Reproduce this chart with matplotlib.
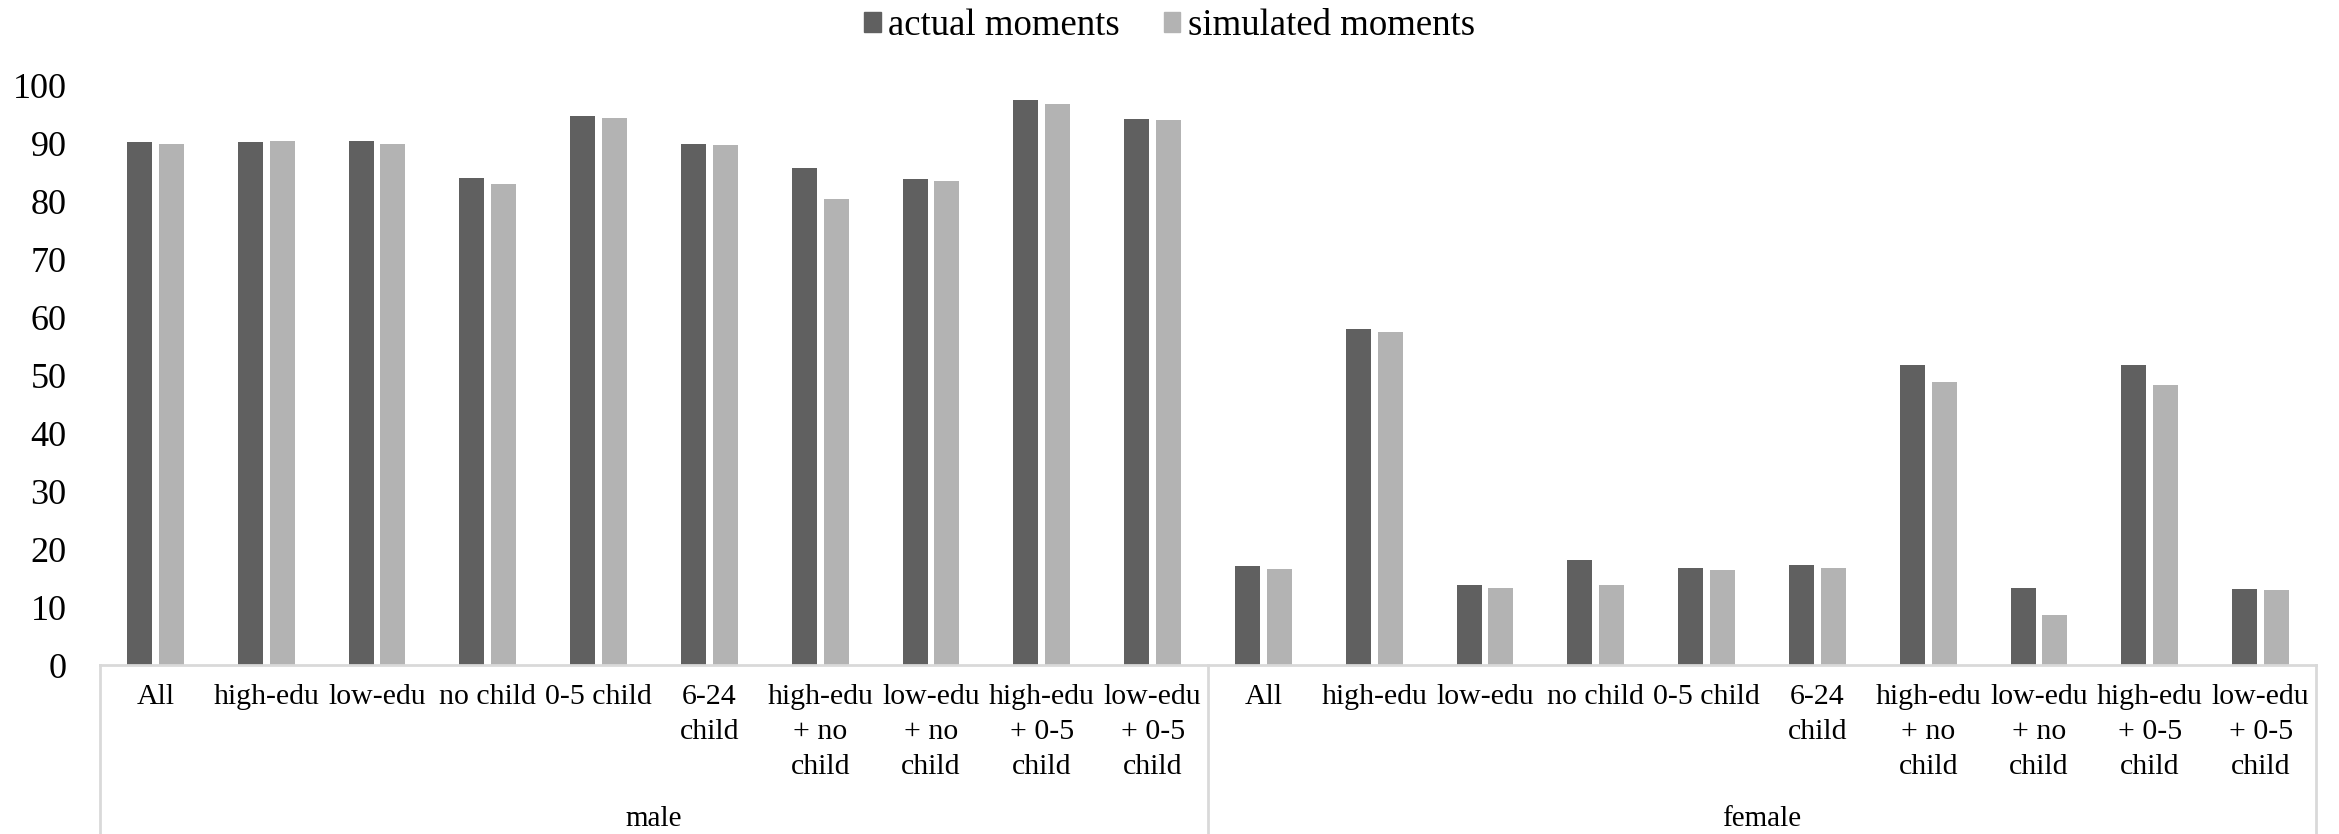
import numpy as np
import matplotlib
matplotlib.use("Agg")
import matplotlib.pyplot as plt
from matplotlib.patches import Patch

# ---- data ----
groups = ["male", "female"]
categories = ["All", "high-edu", "low-edu", "no child", "0-5 child", "6-24\nchild",
              "high-edu\n+ no\nchild", "low-edu\n+ no\nchild",
              "high-edu\n+ 0-5\nchild", "low-edu\n+ 0-5\nchild"]
male_actual = [90.2, 90.2, 90.3, 84.0, 94.6, 89.9, 85.7, 83.8, 97.4, 94.2]
male_simulated = [89.8, 90.4, 89.8, 83.0, 94.3, 89.7, 80.4, 83.4, 96.7, 94.0]
female_actual = [17.1, 58.0, 13.8, 18.1, 16.8, 17.2, 51.7, 13.2, 51.8, 13.1]
female_simulated = [16.6, 57.5, 13.2, 13.8, 16.4, 16.8, 48.8, 8.6, 48.3, 12.9]
series_names = ["actual moments", "simulated moments"]
yticks = [0, 10, 20, 30, 40, 50, 60, 70, 80, 90, 100]

actual = male_actual + female_actual
simulated = male_simulated + female_simulated
labels = categories + categories

c_dark = "#606060"
c_light = "#b3b3b3"
c_axis = "#d9d9d9"

plt.rcParams["font.family"] = ["Liberation Serif", "DejaVu Serif"]

W, H = 2339, 834
fig = plt.figure(figsize=(W / 100, H / 100), dpi=100)
left, right, base, top = 100, 2316, 665, 85
ax = fig.add_axes([left / W, (H - base) / H, (right - left) / W, (base - top) / H])

x = np.arange(len(actual))
bw = 0.225
off = 0.144
ax.bar(x - off, actual, width=bw, color=c_dark, zorder=2)
ax.bar(x + off, simulated, width=bw, color=c_light, zorder=2)

ax.set_xlim(-0.5, len(actual) - 0.5)
ax.set_ylim(0, 100)
ax.set_yticks(yticks)
ax.set_yticklabels([str(v) for v in yticks], fontsize=26)
ax.tick_params(axis="y", length=0, pad=24)

ax.set_xticks(x)
ax.set_xticklabels(labels, fontsize=21.5, linespacing=1.45, va="top")
ax.tick_params(axis="x", length=0, pad=14)

for s in ["left", "right", "top"]:
    ax.spines[s].set_visible(False)
ax.spines["bottom"].set_color(c_axis)
ax.spines["bottom"].set_linewidth(2)

# category box lines
axh = base - top
ybot = -(H - base) / axh
trans = ax.get_xaxis_transform()
n = len(categories)
for xv in [-0.5, n - 0.5, 2 * n - 0.5]:
    ax.plot([xv, xv], [0, ybot], transform=trans, color=c_axis, lw=2, clip_on=False)

# group labels
for i, g in enumerate(groups):
    ax.text(i * n + (n - 1) / 2, -(819 - base) / axh, g, transform=trans,
            ha="center", va="center", fontsize=21)

handles = [Patch(color=c_dark), Patch(color=c_light)]
fig.legend(handles, series_names, loc="center", bbox_to_anchor=(0.5, 1 - 26 / H),
           ncol=2, frameon=False, fontsize=26.5, handlelength=0.45, handleheight=0.45,
           handletextpad=0.2, columnspacing=1.2)

fig.savefig("out.png", dpi=100)
